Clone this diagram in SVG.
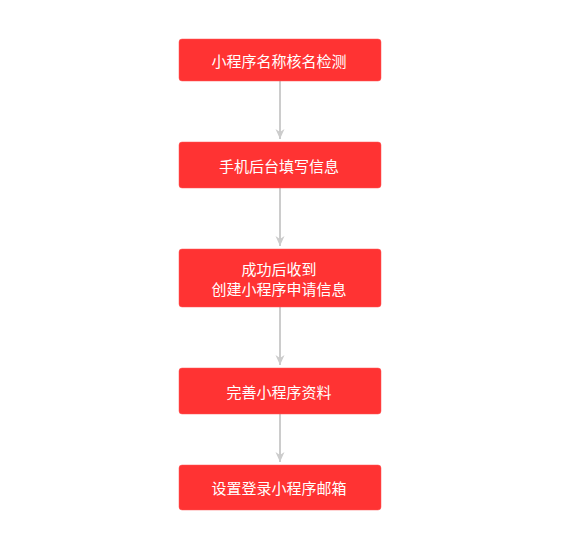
<svg xmlns="http://www.w3.org/2000/svg" width="563" height="557" viewBox="0 0 563 557">
<defs>
<style>
.box{fill:#ff3333;stroke:#ff5555;stroke-width:0.5}
.t{font-family:"Noto Sans CJK SC","Liberation Sans",sans-serif;font-size:15px;fill:#ffffff;text-anchor:middle;dominant-baseline:central}
.c{stroke:#cccccc;stroke-width:2;fill:none}
</style>
<marker id="ah" viewBox="0 0 10 10" refX="10" refY="5" markerWidth="10" markerHeight="10" markerUnits="userSpaceOnUse" orient="auto">
<path d="M0,0.5 L10,5 L0,9.5 L3,5 Z" fill="#cccccc"/>
</marker>
</defs>
<rect width="563" height="557" fill="#ffffff"/>
<g id="connectors">
<line class="c" x1="280" y1="81" x2="280" y2="139" marker-end="url(#ah)"/>
<line class="c" x1="280" y1="188" x2="280" y2="246" marker-end="url(#ah)"/>
<line class="c" x1="280" y1="307" x2="280" y2="365" marker-end="url(#ah)"/>
<line class="c" x1="280" y1="414" x2="280" y2="462" marker-end="url(#ah)"/>
</g>
<g id="n1"><rect class="box" x="179" y="39" width="202" height="42" rx="3"/><text class="t" x="279" y="60">小程序名称核名检测</text></g>
<g id="n2"><rect class="box" x="179" y="142" width="202" height="46" rx="3"/><text class="t" x="279" y="165">手机后台填写信息</text></g>
<g id="n3"><rect class="box" x="179" y="249" width="202" height="58" rx="3"/><text class="t" x="279" y="268">成功后收到</text><text class="t" x="279" y="288">创建小程序申请信息</text></g>
<g id="n4"><rect class="box" x="179" y="368" width="202" height="46" rx="3"/><text class="t" x="279" y="391">完善小程序资料</text></g>
<g id="n5"><rect class="box" x="179" y="465" width="202" height="45" rx="3"/><text class="t" x="279" y="487.5">设置登录小程序邮箱</text></g>
</svg>
